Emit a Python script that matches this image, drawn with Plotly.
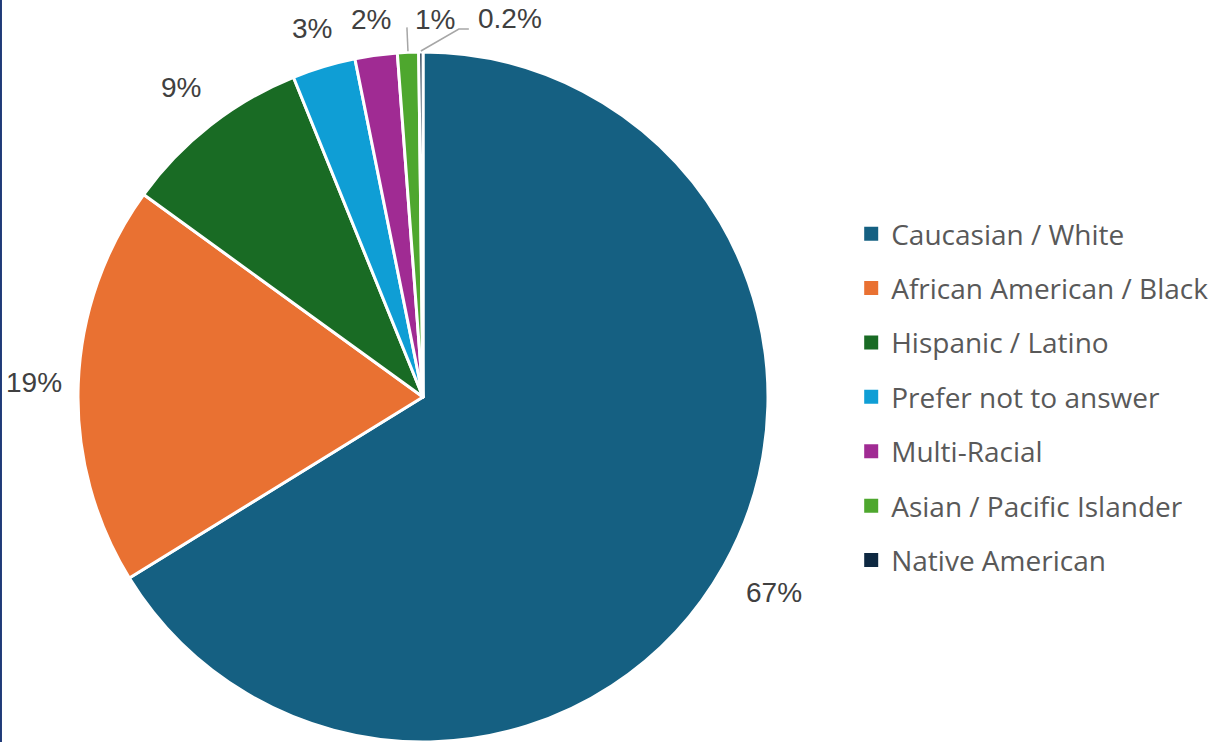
import math
import plotly.graph_objects as go

# Survey respondents by race / ethnicity (percent)
categories = [
    "Caucasian / White",
    "African American / Black",
    "Hispanic / Latino",
    "Prefer not to answer",
    "Multi-Racial",
    "Asian / Pacific Islander",
    "Native American",
]
values = [67, 19, 9, 3, 2, 1, 0.2]
value_labels = ["67%", "19%", "9%", "3%", "2%", "1%", "0.2%"]

colors = ["#156082", "#E97132", "#196B24", "#0F9ED5", "#A02B93", "#4EA72E", "#0E2841"]

# Canvas and pie geometry (pixels)
W, H = 1216, 742
CX, CY, R = 423, 397, 345

# distance of each value label's centre from the pie centre
label_dist = [402, 389, 393, 385, 381, 370, 370]
# labels that sit beside a leader line instead of on the radial spot
callout = {5: dict(bend=None, dx=6, dy=-8), 6: dict(bend=(38, -22), dx=7, dy=-11)}


def px_to_paper(x, y):
    return x / W, 1 - y / H


def polar(theta_deg, r):
    t = math.radians(theta_deg)
    return CX + r * math.sin(t), CY - r * math.cos(t)


fig = go.Figure()
fig.add_trace(
    go.Pie(
        labels=categories,
        values=values,
        sort=False,
        direction="clockwise",
        rotation=0,
        marker=dict(colors=colors, line=dict(color="white", width=3)),
        textinfo="none",
        hoverinfo="label+percent",
        showlegend=False,
        domain=dict(
            x=[(CX - R) / W, (CX + R) / W],
            y=[1 - (CY + R) / H, 1 - (CY - R) / H],
        ),
    )
)

# Legend entries (one group each so the rows can be spaced out)
for name, col in zip(categories, colors):
    fig.add_trace(
        go.Scatter(
            x=[None], y=[None], mode="markers", name=name, legendgroup=name,
            marker=dict(symbol="square", size=14, color=col),
            hoverinfo="skip",
        )
    )

# Value labels placed around the pie, with leader lines for the thin slices
total = sum(values)
cum = 0.0
annotations = []
shapes = []
for i, (v, txt) in enumerate(zip(values, value_labels)):
    mid = (cum + v / 2) / total * 360
    cum += v
    lx, ly = polar(mid, label_dist[i])
    font = dict(family="Liberation Sans, Arial", size=28, color="#404040")
    if i in callout:
        c = callout[i]
        ex, ey = polar(mid, R + 1)
        if c["bend"] is None:
            ax, ay = lx, ly
            path = f"M {ex},{ey} L {ax},{ay}"
        else:
            bx, by = ex + c["bend"][0], ey + c["bend"][1]
            ax, ay = bx + 10, by
            path = f"M {ex},{ey} L {bx},{by} L {ax},{ay}"
        conv = []
        for tok in path.split():
            if "," in tok:
                px_, py_ = map(float, tok.split(","))
                qx, qy = px_to_paper(px_, py_)
                conv.append(f"{qx:.5f},{qy:.5f}")
            else:
                conv.append(tok)
        shapes.append(dict(type="path", xref="paper", yref="paper", path=" ".join(conv),
                           line=dict(color="#A6A6A6", width=1.5)))
        tx, ty = px_to_paper(ax + c["dx"], ay + c["dy"])
        annotations.append(dict(x=tx, y=ty, xref="paper", yref="paper", text=txt,
                                showarrow=False, xanchor="left", yanchor="middle", font=font))
    else:
        tx, ty = px_to_paper(lx, ly)
        annotations.append(dict(x=tx, y=ty, xref="paper", yref="paper", text=txt,
                                showarrow=False, xanchor="center", yanchor="middle", font=font))

# thin navy rule down the left edge
shapes.append(dict(type="line", xref="paper", yref="paper", x0=0.0008, x1=0.0008, y0=0, y1=1,
                   line=dict(color="#1F3A78", width=2)))

fig.update_layout(
    width=W, height=H,
    margin=dict(l=0, r=0, t=0, b=0),
    paper_bgcolor="white", plot_bgcolor="white",
    xaxis=dict(visible=False), yaxis=dict(visible=False),
    annotations=annotations,
    shapes=shapes,
    legend=dict(
        x=0.700, y=0.465, xanchor="left", yanchor="middle",
        font=dict(family="Open Sans", size=28, color="#595959"),
        tracegroupgap=15,
        bgcolor="rgba(0,0,0,0)",
    ),
)

fig.write_html("out.html")
